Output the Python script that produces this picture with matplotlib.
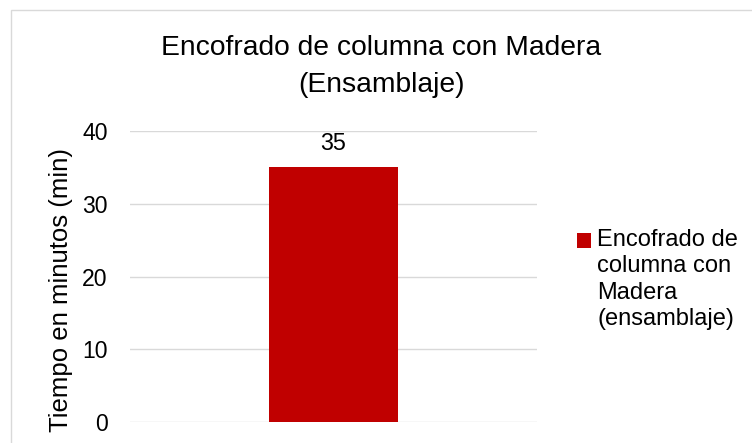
import matplotlib.pyplot as plt
from matplotlib.patches import Rectangle
from matplotlib.legend_handler import HandlerPatch

plt.rcParams['font.family'] = ['Liberation Sans', 'DejaVu Sans']

## ----- data ----- ##
categories = ["Encofrado de columna con Madera (ensamblaje)"]
tiempos = [35]
serie_label = "Encofrado de\ncolumna con\nMadera\n(ensamblaje)"
y_ticks = [0, 10, 20, 30, 40]

bar_color = "#C00000"
grid_color = "#D9D9D9"

fig = plt.figure(figsize=(7.52, 4.43), dpi=100)
ax = fig.add_axes([130 / 752, 1 - 422 / 443, 407 / 752, 291 / 443])

bars = ax.bar(range(len(categories)), tiempos, width=0.315, color=bar_color,
              label=serie_label, zorder=3)
ax.bar_label(bars, padding=9, fontsize=16.8)

ax.set_xlim(-0.5, 0.5)
ax.set_ylim(0, 40)
ax.set_yticks(y_ticks)
ax.set_xticks([])
ax.tick_params(axis="y", length=0, pad=16, labelsize=16.6)
ax.yaxis.grid(True, color=grid_color, linewidth=1.0, zorder=0)
ax.set_axisbelow(True)
for s in ax.spines.values():
    s.set_visible(False)

ax.set_ylabel("Tiempo en minutos (min)", fontsize=18.5)
ax.yaxis.set_label_coords(-0.14, 0.455)

leg_fs = 17
leg_ls = 1.26


# legend marker next to the first line of the label, like Excel
def top_patch(legend, orig_handle, xdescent, ydescent, width, height, fontsize):
    shift = 1.5 * 18.9
    return Rectangle((-xdescent, -ydescent + shift), width, height)


leg = fig.legend(handles=[bars.patches[0]], labels=[serie_label],
                 handler_map={bars.patches[0]: HandlerPatch(patch_func=top_patch)},
                 loc="upper left", bbox_to_anchor=(577 / 752, 1 - 229 / 443),
                 frameon=False, fontsize=leg_fs, handlelength=0.6, handleheight=0.6,
                 handletextpad=0.25, borderpad=0, borderaxespad=0)
for t in leg.get_texts():
    t.set_linespacing(leg_ls)

fig.text(381 / 752, 1 - 66.5 / 443, "Encofrado de columna con Madera\n(Ensamblaje)",
         ha="center", va="center", fontsize=20.3, linespacing=1.55)

# chart area border
fig.patches.append(Rectangle((11 / 752, -0.1), 1.5, 1 - 10.5 / 443 + 0.1,
                             transform=fig.transFigure, fill=False,
                             edgecolor=grid_color, linewidth=1.0))

plt.savefig("out.png", dpi=100)
